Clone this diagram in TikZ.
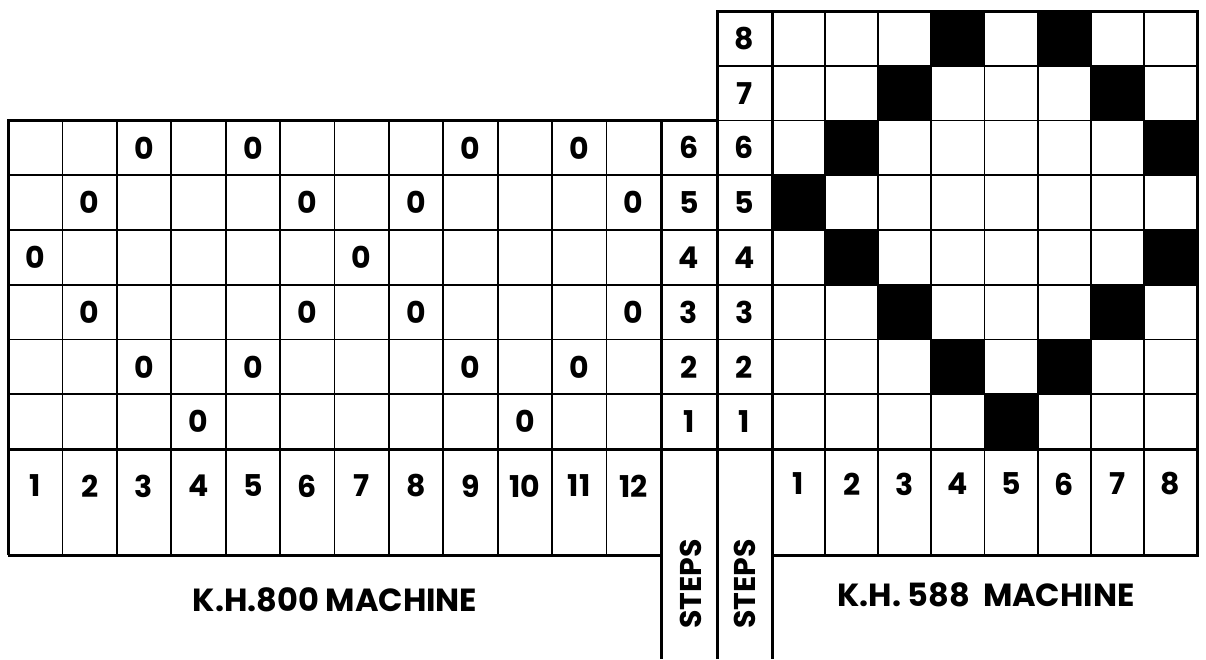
\documentclass[tikz,border=0pt]{standalone}
\usepackage{fontspec}
\setmainfont{Poppins}
\begin{document}
\begin{tikzpicture}[x=1pt,y=-1pt,
  thin/.style={line width=1.8pt},
  thick/.style={line width=3pt},
  num/.style={font=\fontsize{30}{30}\selectfont\bfseries, inner sep=0pt},
  hole/.style={font=\fontsize{30}{30}\selectfont\bfseries, inner sep=0pt},
  lbl/.style={font=\fontsize{32}{32}\selectfont\bfseries, inner sep=0pt},
  steplbl/.style={font=\fontsize{30}{30}\selectfont\bfseries, inner sep=0pt, rotate=90},
  blk/.style={fill=black}]
\useasboundingbox (0,0) rectangle (1206,659);
% black cells (right grid)
\foreach \k/\cols in {0/{4,6},1/{3,7},2/{2,8},3/{1},4/{2,8},5/{3,7},6/{4,6},7/{5}}{
  \foreach \c in \cols{
    \fill[blk] ({772+53.125*(\c-1)},{11+54.75*\k}) rectangle ({772+53.125*\c},{11+54.75*(\k+1)});
  }
}
% left grid verticals
\foreach \i in {1,...,11}{
  \draw[thin] ({8+54.4*\i},120.5) -- ({8+54.4*\i},555);
}
% right grid verticals
\foreach \j in {1,...,7}{
  \draw[thin] ({772+53.125*\j},11) -- ({772+53.125*\j},555);
}
% horizontal rows
\draw[thin] (717,66) -- (1197,66);
\draw[thin] (717,120.5) -- (1197,120.5);
\foreach \k in {3,...,7}{
  \draw[thin] (8,{11+54.75*\k}) -- (1197,{11+54.75*\k});
}
\draw[thick] (8,449) -- (1197,449);
% outer lines
\draw[thick] (8,555) -- (8,120.5) -- (717,120.5);
\draw[thick] (661,120.5) -- (661,659);
\draw[thick] (717,659) -- (717,11) -- (1197,11) -- (1197,555) -- (772,555);
\draw[thick] (772,11) -- (772,659);
\draw[thick] (8,555) -- (661,555);
% holes
\foreach \k/\cols in {2/{3,5,9,11},3/{2,6,8,12},4/{1,7},5/{2,6,8,12},6/{3,5,9,11},7/{4,10}}{
  \foreach \c in \cols{
    \node[hole] (h-\k-\c) at ({8+54.4*(\c-0.5)},{11+54.75*(\k+0.5)}) {0};
  }
}
% steps numbers
\foreach \k/\n in {2/6,3/5,4/4,5/3,6/2,7/1}{
  \node[num] (ls-\n) at (689,{11+54.75*(\k+0.5)}) {\n};
}
\foreach \k/\n in {0/8,1/7,2/6,3/5,4/4,5/3,6/2,7/1}{
  \node[num] (rs-\n) at (744.5,{11+54.75*(\k+0.5)}) {\n};
}
% column numbers
\foreach \c in {1,...,12}{
  \node[num] (lc-\c) at ({8+54.4*(\c-0.5)},486) {\c};
}
\foreach \c in {1,...,8}{
  \node[num] (rc-\c) at ({772+53.125*(\c-0.5)},484) {\c};
}
% labels
\node[lbl] (lab800) at (335,600) {K.H.800 MACHINE};
\node[lbl] (lab588) at (986,595) {K.H. 588\hspace{0.4em}MACHINE};
\node[steplbl] (st1) at (691,584) {STEPS};
\node[steplbl] (st2) at (744.5,584) {STEPS};
\end{tikzpicture}
\end{document}
